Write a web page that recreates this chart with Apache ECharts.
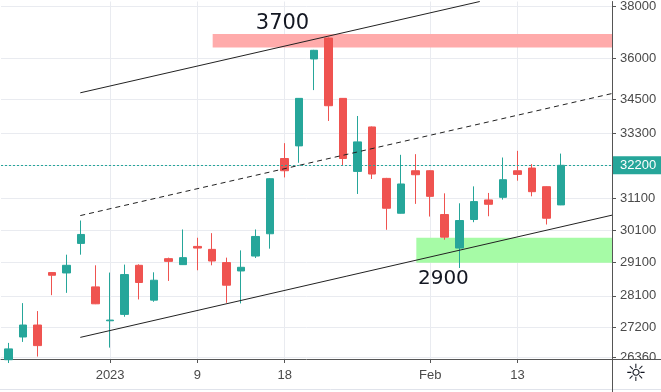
<!DOCTYPE html>
<html><head><meta charset="utf-8">
<script src="https://cdn.jsdelivr.net/npm/echarts@6/dist/echarts.min.js"></script>
<style>html,body{margin:0;padding:0;background:#fff}#c{width:661px;height:392px}</style>
</head><body><div id="c"></div>
<script>
// ---- data ----
const slotCount = 42;                       // 39 sessions + empty space on the right
const tickIndex = [7, 13, 19, 29, 35];
const tickText = ['2023', '9', '18', 'Feb', '13'];
const opens  = [26290,26921,27259,28792,28780,29681,28365,27380,27563,29011,27976,29213,29031,29588,29497,29093,28840,29292,29981,32429,32859,35977,36769,34528,31996,33514,31763,30629,32018,32018,30588,29537,30430,31058,31142,32018,32108,31490,30897];
const closes = [26589,27259,26680,28711,29011,29959,27869,27400,28732,28495,28563,29130,29244,29537,29141,28415,28951,29897,31753,32018,34528,36303,34264,32429,32996,31908,30789,31579,31885,31174,29875,30398,31004,30917,31720,31896,31326,30471,32200];
const lows   = [26200,26783,26377,28121,28189,29334,27860,26624,27495,27996,27928,28542,29020,28861,29011,27898,27880,29232,29518,31796,32285,34827,33724,32208,31252,31743,30106,30620,30930,30524,29795,28930,30345,30534,31068,31687,31175,30272,30890];
const highs  = [26755,27889,27658,28800,29334,30398,29011,28792,29032,29041,28800,29244,30116,29857,30000,29244,29466,30116,31770,32952,34540,36320,36790,34540,33899,33530,31780,32554,32576,32030,31272,30949,31500,31285,32463,32689,32241,31500,32596];
const priceTicks = [38000, 36000, 34500, 33300, 32200, 31100, 30100, 29100, 28100, 27200, 26360];
const priceMin = 26310, priceMax = 38198;
const lastPrice = 32200;
const upperLine = [[4.95, 34729], [32.41, 38198]];
const midLine   = [[4.95, 30555], [41.5, 34703]];
const lowerLine = [[4.95, 26910], [41.5, 30568]];
const resistZone  = [14.05, 36930, 41.5, 36405];
const supportZone = [28.05, 29857, 41.5, 29088];
const noteText = ['3700', '2900'];
const noteX = [18.85, 29.91];
const noteY = [37324, 28593];
const noteSize = [21, 20];

// ---- chart ----
const categories = Array.from({length: slotCount}, (_, i) => {
  const k = tickIndex.indexOf(i); return k >= 0 ? tickText[k] : 's' + i;
});
const candles = opens.map((o, i) => [o, closes[i], lows[i], highs[i]]);
const UP = '#26a69a', DOWN = '#ef5350', AX = '#555', GRID = '#e9ebf0';
const lbl = {color: '#4a4a4a', fontSize: 13, fontFamily: 'Liberation Sans'};

const chart = echarts.init(document.getElementById('c'), null, {renderer: 'canvas'});
chart.setOption({
  animation: false,
  backgroundColor: '#fff',
  grid: {left: 1, right: 49, top: 0, bottom: 33, containLabel: false},
  xAxis: [
    {type: 'category', data: categories, boundaryGap: true, show: false},
    {type: 'value', min: -0.5, max: slotCount - 0.5, position: 'bottom',
     axisLine: {show: true, onZero: false, lineStyle: {color: AX}},
     axisTick: {show: true, length: 4, customValues: tickIndex, lineStyle: {color: AX}},
     axisLabel: Object.assign({customValues: tickIndex, margin: 10,
       formatter: v => tickText[tickIndex.indexOf(Math.round(v))]}, lbl),
     splitLine: {show: true, lineStyle: {color: GRID}}}
  ],
  yAxis: {
    type: 'log', logBase: 10, position: 'right', min: priceMin, max: priceMax,
    axisLine: {show: true, onZero: false, lineStyle: {color: AX}},
    axisTick: {show: true, length: 4, customValues: priceTicks, lineStyle: {color: AX}},
    axisLabel: Object.assign({customValues: priceTicks, margin: 8,
      formatter: v => String(Math.round(v))}, lbl),
    splitLine: {show: true, lineStyle: {color: GRID}}
  },
  series: [
    {type: 'line', xAxisIndex: 1, data: [], z: 1, silent: true,
     markArea: {silent: true, data: [
       [{coord: [resistZone[0], resistZone[1]], itemStyle: {color: '#ffabab'}}, {coord: [resistZone[2], resistZone[3]]}],
       [{coord: [supportZone[0], supportZone[1]], itemStyle: {color: '#a6fba6'}}, {coord: [supportZone[2], supportZone[3]]}]
     ]},
     markPoint: {silent: true, symbol: 'circle', symbolSize: 0,
       data: noteText.map((t, i) => ({name: t, coord: [noteX[i], noteY[i]],
         label: {show: true, position: 'inside', formatter: '{b}', color: '#131722',
           fontSize: noteSize[i], fontFamily: 'DejaVu Sans'}}))}
    },
    {type: 'candlestick', xAxisIndex: 0, data: candles, z: 2, barWidth: 8,
     itemStyle: {color: UP, color0: DOWN, borderColor: UP, borderColor0: DOWN, borderWidth: 1},
     markLine: {silent: true, symbol: 'none', animation: false,
       lineStyle: {color: UP, type: [2, 2], width: 1, opacity: 1},
       label: {show: true, position: 'end', distance: 1, formatter: String(lastPrice),
         backgroundColor: UP, color: '#fff', fontSize: 13, fontFamily: 'Liberation Sans',
         padding: [3, 7, 2, 7], lineHeight: 13},
       data: [{yAxis: lastPrice}]}
    },
    {type: 'line', xAxisIndex: 1, data: upperLine, symbol: 'none', z: 3, silent: true,
     lineStyle: {color: '#222', width: 1}},
    {type: 'line', xAxisIndex: 1, data: midLine, symbol: 'none', z: 3, silent: true,
     lineStyle: {color: '#222', width: 1, type: [5, 4]}},
    {type: 'line', xAxisIndex: 1, data: lowerLine, symbol: 'none', z: 3, silent: true,
     lineStyle: {color: '#222', width: 1}}
  ],
  graphic: [
    {type: 'rect', z: 100, shape: {x: 613, y: 360, width: 48, height: 10}, style: {fill: '#fff'}},
    {type: 'line', z: 101, shape: {x1: 612.5, y1: 359, x2: 612.5, y2: 392}, style: {stroke: AX, lineWidth: 1}},
    {type: 'line', z: 101, shape: {x1: 613, y1: 359.5, x2: 661, y2: 359.5}, style: {stroke: AX, lineWidth: 1}},
    {type: 'line', shape: {x1: 0, y1: 389.5, x2: 661, y2: 389.5}, style: {stroke: '#e0e3eb', lineWidth: 1}},
    {type: 'text', z: 101, x: 636, y: 375, style: {text: '\u263C', fontSize: 24, fill: '#131722',
      align: 'center', verticalAlign: 'middle', fontFamily: 'DejaVu Sans'}}
  ]
});
</script></body></html>
